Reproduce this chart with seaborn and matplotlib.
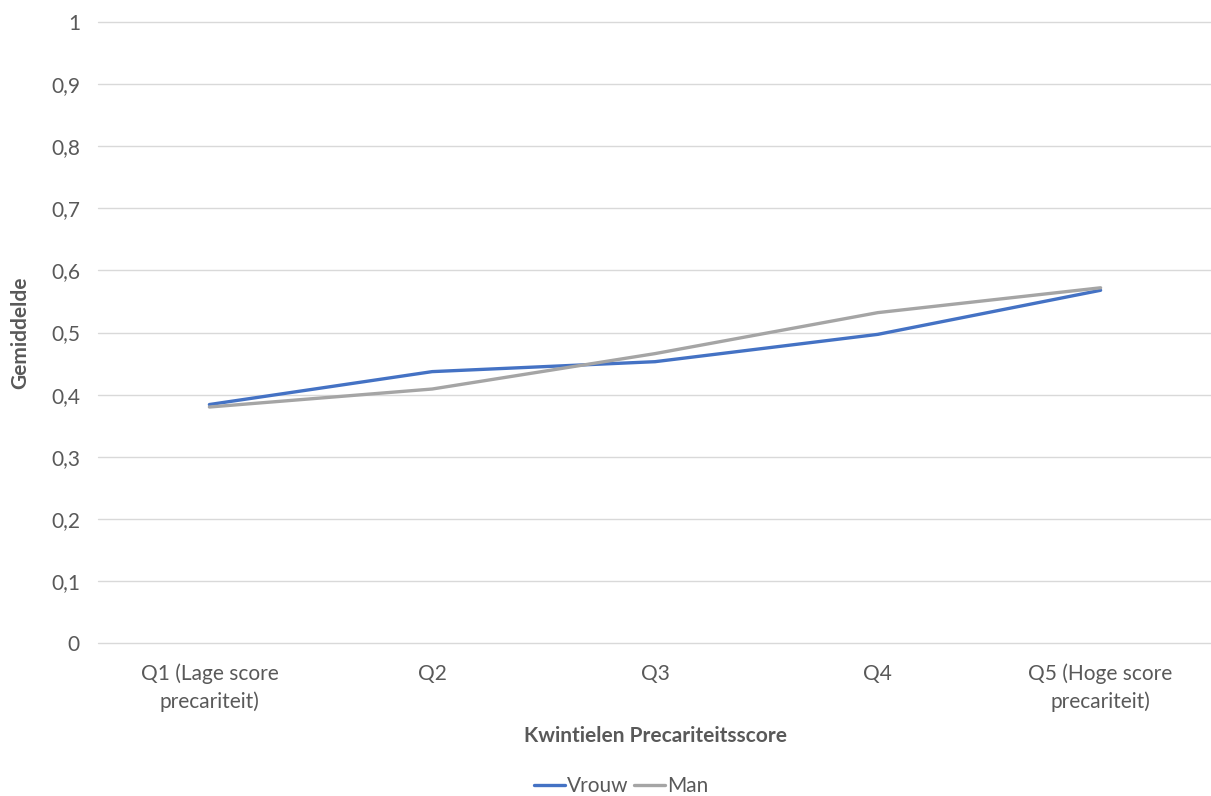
import matplotlib
matplotlib.use("Agg")
import matplotlib.pyplot as plt
from matplotlib.lines import Line2D
import seaborn as sns
import pandas as pd

categories = ["Q1 (Lage score\nprecariteit)", "Q2", "Q3", "Q4", "Q5 (Hoge score\nprecariteit)"]
vrouw = [0.384, 0.437, 0.453, 0.497, 0.568]
man = [0.380, 0.409, 0.466, 0.532, 0.572]
series_names = ["Vrouw", "Man"]
y_ticks = [0, 0.1, 0.2, 0.3, 0.4, 0.5, 0.6, 0.7, 0.8, 0.9, 1]

df = pd.DataFrame({
    "pos": list(range(len(categories))) * 2,
    "waarde": vrouw + man,
    "geslacht": [series_names[0]] * len(vrouw) + [series_names[1]] * len(man),
})

sns.set_theme(style="white")
plt.rcParams["font.family"] = ["Lato", "DejaVu Sans"]
text_color = "#595959"
fs = 15

fig = plt.figure(figsize=(12.11, 7.96), dpi=100)
ax = fig.add_axes([98 / 1211, 1 - 643 / 796, (1212 - 98) / 1211, (643 - 22) / 796])

sns.lineplot(data=df, x="pos", y="waarde", hue="geslacht",
             palette={"Vrouw": "#4472C4", "Man": "#A5A5A5"},
             linewidth=2.4, ax=ax, legend=False)

ax.set_xlim(-0.5, len(categories) - 0.5)
ax.set_ylim(0, 1)
ax.set_yticks(y_ticks)
ax.set_yticklabels([f"{t:g}".replace(".", ",") for t in y_ticks], fontsize=fs, color=text_color)
ax.set_xticks(range(len(categories)))
ax.set_xticklabels(categories, fontsize=fs, color=text_color, linespacing=1.45)
ax.tick_params(axis="y", length=0, pad=13)
ax.tick_params(axis="x", length=0, pad=15)
ax.grid(axis="y", color="#D9D9D9", linewidth=1)
for gl in ax.get_ygridlines():
    gl.set_clip_on(False)
for s in ax.spines.values():
    s.set_visible(False)

ax.set_xlabel("Kwintielen Precariteitsscore", fontsize=fs, fontweight="bold",
              color=text_color, labelpad=10)
ax.set_ylabel("Gemiddelde", fontsize=fs, fontweight="bold", color=text_color, labelpad=15)

handles = [Line2D([], [], color="#4472C4", lw=2.4), Line2D([], [], color="#A5A5A5", lw=2.4)]
fig.legend(handles, series_names, loc="center", bbox_to_anchor=(0.513, 1 - 786 / 796),
           ncol=2, frameon=False, fontsize=fs, labelcolor=text_color,
           handlelength=1.45, handletextpad=0.1, columnspacing=0.3)

fig.savefig("out.png", dpi=100)
